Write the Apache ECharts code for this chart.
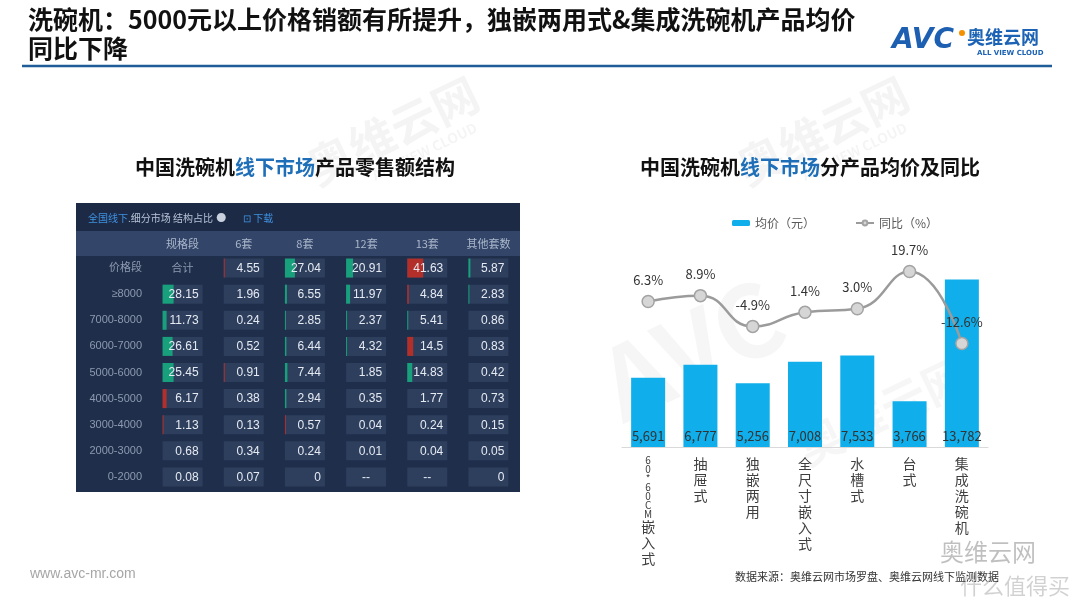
<!DOCTYPE html>
<html>
<head>
<meta charset="utf-8">
<script src="https://cdn.jsdelivr.net/npm/echarts@6/dist/echarts.min.js"></script>
<style>
  html, body { margin: 0; padding: 0; background: #fff; }
  #chart { width: 1080px; height: 608px; }
</style>
</head>
<body>
<div id="chart"></div>
<script>
// 洗碗机线下市场：左侧零售额结构表 + 右侧分产品均价及同比
const FONT = '"Noto Sans CJK SC", "Noto Sans", sans-serif'

// ---- 左表：零售额结构占比 (%) ----
const colHeaders = ['规格段', '6套', '8套', '12套', '13套', '其他套数']
const rowHeaders = ['价格段', '≥8000', '7000-8000', '6000-7000', '5000-6000', '4000-5000', '3000-4000', '2000-3000', '0-2000']
const sizeTotal = [4.55, 27.04, 20.91, 41.63, 5.87]
const bandTotal = [28.15, 11.73, 26.61, 25.45, 6.17, 1.13, 0.68, 0.08]
const shareByBand = [
  [1.96, 6.55, 11.97, 4.84, 2.83],
  [0.24, 2.85, 2.37, 5.41, 0.86],
  [0.52, 6.44, 4.32, 14.5, 0.83],
  [0.91, 7.44, 1.85, 14.83, 0.42],
  [0.38, 2.94, 0.35, 1.77, 0.73],
  [0.13, 0.57, 0.04, 0.24, 0.15],
  [0.34, 0.24, 0.01, 0.04, 0.05],
  [0.07, 0, null, null, 0]
]
// 占比变化（指示条，正=绿，负=红）
const sizeTotalChg = [-1, 10, 7, -16, 2]
const bandTotalChg = [11, 4, 10, 11, -4, -1, 0, 0]
const shareChg = [
  [0, 2, 4, -1.5, 1],
  [0, 1, 1, 1, 0],
  [0, 1.5, 1, -6, 0],
  [-0.5, 2.5, 0, 5, 0],
  [0, 1.5, 0, 0, 0],
  [0, -0.5, 0, 0, 0],
  [0, 0, 0, 0, 0],
  [0, 0, 0, 0, 0]
]

// ---- 右图：分产品均价及同比 ----
const productTypes = ['60*60CM嵌入式', '抽屉式', '独嵌两用', '全尺寸嵌入式', '水槽式', '台式', '集成洗碗机']
const avgPrice = [5691, 6777, 5256, 7008, 7533, 3766, 13782]
const yoy = [6.3, 8.9, -4.9, 1.4, 3.0, 19.7, -12.6]

// 表格单元
const cells = []
cells.push({ col: 0, row: 0, text: '合计' })
sizeTotal.forEach((v, i) => cells.push({ col: i + 1, row: 0, v, chg: sizeTotalChg[i] }))
bandTotal.forEach((v, r) => {
  cells.push({ col: 0, row: r + 1, v, chg: bandTotalChg[r] })
  shareByBand[r].forEach((s, i) => cells.push({ col: i + 1, row: r + 1, v: s, chg: shareChg[r][i] }))
})

const chart = echarts.init(document.getElementById('chart'))

function renderCell(params, api) {
  const c = cells[params.dataIndex]
  const p = api.coord([c.col, c.row])
  if (c.text) {
    return {
      type: 'text', x: p[0], y: p[1],
      style: { text: c.text, fill: '#8d9ab0', font: '11px ' + FONT, align: 'center', verticalAlign: 'middle' }
    }
  }
  const w = 40, h = 19
  const x0 = p[0] - w / 2, y0 = p[1] - h / 2
  const children = [{ type: 'rect', shape: { x: x0, y: y0, width: w, height: h }, style: { fill: '#2e3e5d' } }]
  if (c.chg) {
    children.push({
      type: 'rect',
      shape: { x: x0, y: y0, width: Math.max(1, Math.abs(c.chg)), height: h },
      style: { fill: c.chg > 0 ? '#17a07b' : '#b3302a' }
    })
  }
  const isNull = c.v === null
  children.push({
    type: 'text',
    x: isNull ? p[0] : x0 + w - 4, y: p[1] + 0.5,
    style: {
      text: isNull ? '--' : String(c.v),
      fill: '#e6ebf3', font: '12px "Liberation Sans", Arial, sans-serif',
      align: isNull ? 'center' : 'right', verticalAlign: 'middle'
    }
  })
  return { type: 'group', children }
}

function verticalLabel(v) {
  return v.split('').map(ch => /[\x00-\x7f]/.test(ch) ? '{l|' + ch + '}' : '{c|' + ch + '}').join('\n')
}

const watermark = (x, y, text, size, rot, alpha) => ({
  type: 'text', x, y, rotation: rot, z: -10,
  style: { text, font: 'bold ' + size + 'px ' + FONT, fill: 'rgba(0,0,0,' + (alpha || 0.045) + ')' }
})

const option = {
  backgroundColor: '#fff',
  animation: false,
  graphic: [
    // 水印
    watermark(300, 150, '奥维云网', 46, 0.45),
    watermark(370, 170, 'ALL VIEW CLOUD', 14, 0.45),
    watermark(170, 330, 'AVC', 90, 0.45, 0.035),
    watermark(730, 150, '奥维云网', 46, 0.45),
    watermark(800, 170, 'ALL VIEW CLOUD', 14, 0.45),
    watermark(585, 345, 'AVC', 100, 0.45, 0.035),
    watermark(790, 430, '奥维云网', 46, 0.45, 0.035),
    // 标题
    {
      type: 'text', left: 28, top: 5,
      style: {
        text: '洗碗机：5000元以上价格销额有所提升，独嵌两用式&集成洗碗机产品均价\n同比下降',
        font: 'bold 25px ' + FONT, lineHeight: 29, fill: '#111'
      }
    },
    { type: 'line', shape: { x1: 22, y1: 66, x2: 1052, y2: 66 }, style: { stroke: '#1f5d99', lineWidth: 2.5 } },
    // Logo
    { type: 'text', x: 892, y: 27, style: { text: 'AVC', font: 'italic bold 28px "DejaVu Sans", sans-serif', fill: '#1d5fb0' } },
    { type: 'circle', shape: { cx: 962, cy: 33, r: 3 }, style: { fill: '#f39200' } },
    { type: 'text', x: 967, y: 28, style: { text: '奥维云网', font: 'bold 18px ' + FONT, fill: '#1d63b5' } },
    { type: 'text', x: 977, y: 50, style: { text: 'ALL VIEW CLOUD', font: 'bold 7px "DejaVu Sans", sans-serif', fill: '#1d63b5' } },
    // 副标题
    {
      type: 'text', x: 295, y: 167,
      style: {
        text: '{a|中国洗碗机}{b|线下市场}{a|产品零售额结构}', align: 'center', verticalAlign: 'middle',
        rich: {
          a: { fontSize: 20, fontWeight: 'bold', fontFamily: FONT, fill: '#111' },
          b: { fontSize: 20, fontWeight: 'bold', fontFamily: FONT, fill: '#1f6fb8' }
        }
      }
    },
    {
      type: 'text', x: 810, y: 167,
      style: {
        text: '{a|中国洗碗机}{b|线下市场}{a|分产品均价及同比}', align: 'center', verticalAlign: 'middle',
        rich: {
          a: { fontSize: 20, fontWeight: 'bold', fontFamily: FONT, fill: '#111' },
          b: { fontSize: 20, fontWeight: 'bold', fontFamily: FONT, fill: '#1f6fb8' }
        }
      }
    },
    // 表格底板
    { type: 'rect', z: -1, shape: { x: 76, y: 203, width: 444, height: 289 }, style: { fill: '#1f2e4b' } },
    { type: 'rect', z: -1, shape: { x: 76, y: 203, width: 444, height: 28 }, style: { fill: '#1c2a45' } },
    { type: 'rect', z: -1, shape: { x: 76, y: 231, width: 444, height: 25 }, style: { fill: '#33466a' } },
    {
      type: 'text', x: 88, y: 218,
      style: {
        text: '{a|全国线下}{b|.细分市场 结构占比} {c|●}     {a|⊡ 下载}', verticalAlign: 'middle',
        rich: {
          a: { fontSize: 10, fontFamily: FONT, fill: '#3f93e3' },
          b: { fontSize: 10, fontFamily: FONT, fill: '#b7c3d6' },
          c: { fontSize: 10, fontFamily: FONT, fill: '#c9d1de' }
        }
      }
    },
    // 页脚
    { type: 'text', x: 30, y: 567, style: { text: 'www.avc-mr.com', font: '14px "Liberation Sans", Arial, sans-serif', fill: '#a6a6a6' } },
    { type: 'text', x: 735, y: 571, style: { text: '数据来源：奥维云网市场罗盘、奥维云网线下监测数据', font: '11px ' + FONT, fill: '#333' } },
    { type: 'text', x: 940, y: 540, style: { text: '奥维云网', font: '24px ' + FONT, fill: 'rgba(0,0,0,0.25)' } },
    { type: 'text', x: 960, y: 575, style: { text: '什么值得买', font: '22px ' + FONT, fill: 'rgba(0,0,0,0.18)' } }
  ],
  legend: {
    top: 212, left: 727, itemGap: 40, itemWidth: 18, itemHeight: 6,
    textStyle: { color: '#595959', fontSize: 12, fontFamily: FONT },
    data: ['均价（元）', '同比（%）']
  },
  grid: [
    { left: 152, top: 255, width: 367, height: 235 },
    { left: 622, top: 204, width: 366, height: 243 }
  ],
  xAxis: [
    {
      gridIndex: 0, type: 'category', data: colHeaders, position: 'top',
      axisLine: { show: false }, axisTick: { show: false },
      axisLabel: { color: '#aab7ca', fontSize: 11, fontFamily: FONT, margin: 6, interval: 0 }
    },
    {
      gridIndex: 1, type: 'category', data: productTypes,
      axisLine: { lineStyle: { color: '#d9d9d9', width: 1 } }, axisTick: { show: false },
      axisLabel: {
        interval: 0, margin: 9, formatter: verticalLabel,
        rich: {
          l: { fontSize: 10, lineHeight: 9, color: '#404040', fontFamily: FONT },
          c: { fontSize: 14, lineHeight: 16, color: '#404040', fontFamily: FONT }
        }
      }
    }
  ],
  yAxis: [
    {
      gridIndex: 0, type: 'category', data: rowHeaders, inverse: true,
      axisLine: { show: false }, axisTick: { show: false }, splitLine: { show: false },
      axisLabel: { color: '#8d9ab0', fontSize: 11, fontFamily: '"Liberation Sans", Arial, ' + FONT, margin: 10 }
    },
    { gridIndex: 1, type: 'value', min: 0, max: 20000, show: false },
    { gridIndex: 1, type: 'value', min: -59, max: 50, show: false }
  ],
  series: [
    {
      type: 'custom', xAxisIndex: 0, yAxisIndex: 0,
      renderItem: renderCell,
      data: cells.map(c => [c.col, c.row])
    },
    {
      name: '均价（元）', type: 'bar', xAxisIndex: 1, yAxisIndex: 1,
      data: avgPrice, barWidth: 34,
      itemStyle: { color: '#10aeea' },
      label: {
        show: true, position: 'insideBottom', distance: 4,
        color: '#333', fontSize: 13, fontFamily: FONT,
        formatter: p => p.value.toLocaleString('en-US')
      }
    },
    {
      name: '同比（%）', type: 'line', xAxisIndex: 1, yAxisIndex: 2,
      data: yoy, smooth: true, symbol: 'circle', symbolSize: 12,
      lineStyle: { color: '#9b9b9b', width: 2.5 },
      itemStyle: { color: '#d6d6d6', borderColor: '#a3a3a3', borderWidth: 1.5 },
      label: {
        show: true, position: 'top', distance: 8,
        color: '#333', fontSize: 13, fontFamily: FONT,
        formatter: p => p.value.toFixed(1) + '%'
      }
    }
  ]
}

chart.setOption(option)
</script>
</body>
</html>
